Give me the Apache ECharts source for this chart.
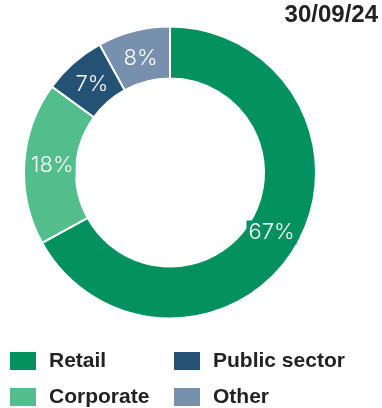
<!DOCTYPE html>
<html>
<head>
<meta charset="utf-8">
<script src="https://cdn.jsdelivr.net/npm/echarts@6/dist/echarts.min.js"></script>
<style>
  html, body { margin: 0; padding: 0; background: #fff; }
  #chart { width: 382px; height: 408px; }
</style>
</head>
<body>
<div id="chart"></div>
<script>
// Loan portfolio split by segment
const dateLabel = '30/09/24';
const segments = ['Retail', 'Corporate', 'Public sector', 'Other'];
const shares = [67, 18, 7, 8];
const colors = ['#03915f', '#52be8c', '#245275', '#7690ad'];

const chart = echarts.init(document.getElementById('chart'), null, { renderer: 'canvas' });

const ringData = segments.map((name, i) => ({
  name: name,
  value: shares[i],
  itemStyle: { color: colors[i] }
}));

// label layer: same values, transparent sectors, labels on the segment colour
const labelData = segments.map((name, i) => ({
  name: name,
  value: shares[i],
  label: { backgroundColor: colors[i] }
}));

const legendText = {
  fontFamily: 'Liberation Sans, Arial, sans-serif',
  fontSize: 21,
  fontWeight: 'bold',
  color: '#222222',
  padding: [0, 0, 0, 7]
};

// 2x2 legend grid
const legendCells = [[8, 350], [8, 386], [172, 350], [172, 386]];
const legends = segments.map((name, i) => ({
  data: [name],
  left: legendCells[i][0],
  top: legendCells[i][1],
  padding: 0,
  itemWidth: 28,
  itemHeight: 20,
  itemGap: 12,
  icon: 'rect',
  textStyle: legendText,
  selectedMode: false
}));

chart.setOption({
  animation: false,
  title: {
    text: dateLabel,
    right: 4,
    top: 3,
    padding: 0,
    textStyle: {
      fontFamily: 'Liberation Sans, Arial, sans-serif',
      fontSize: 24,
      fontWeight: 'bold',
      color: '#222222'
    }
  },
  legend: legends,
  series: [
    {
      type: 'pie',
      center: [170, 172.5],
      radius: [94, 146],
      startAngle: 90,
      clockwise: true,
      itemStyle: { borderColor: '#ffffff', borderWidth: 2 },
      label: { show: false },
      labelLine: { show: false },
      emphasis: { disabled: true },
      data: ringData
    },
    {
      type: 'pie',
      center: [170, 172.5],
      radius: [84, 146],
      startAngle: 90,
      clockwise: true,
      silent: true,
      avoidLabelOverlap: false,
      legendHoverLink: false,
      itemStyle: { color: 'rgba(0,0,0,0)', borderWidth: 0 },
      label: {
        show: true,
        position: 'inside',
        formatter: '{c}%',
        color: '#ffffff',
        fontFamily: 'Inter, Liberation Sans, Arial, sans-serif',
        fontSize: 22,
        fontWeight: 300,
        padding: [1, 2]
      },
      labelLine: { show: false },
      emphasis: { disabled: true },
      data: labelData
    }
  ]
});
</script>
</body>
</html>
